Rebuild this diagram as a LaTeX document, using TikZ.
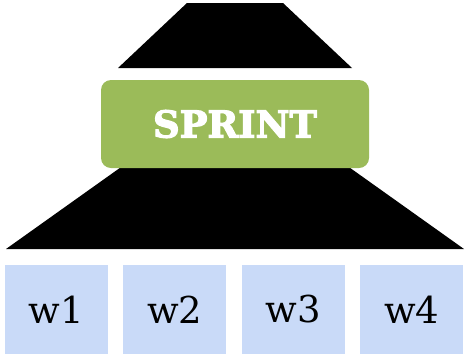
\documentclass[tikz,border=0pt]{standalone}
\usepackage{fontspec}
\setmainfont{DejaVu Serif}
\newfontfamily\heavyslab[FakeBold=3]{DejaVu Serif Bold}
\usetikzlibrary{positioning}
\definecolor{sprintgreen}{HTML}{9BBB59}
\definecolor{weekblue}{HTML}{C9DAF8}
\tikzstyle{sprintbox} = [rectangle, rounded corners=10pt, minimum width=268pt, minimum height=88pt, text centered, fill=sprintgreen, text=white, font=\heavyslab\fontsize{37}{37}\selectfont]
\tikzstyle{week} = [rectangle, minimum width=103pt, minimum height=89pt, text centered, fill=weekblue, font=\fontsize{37}{37}\selectfont]
\tikzstyle{funnel} = [fill=black]

\begin{document}
\begin{tikzpicture}[x=1pt, y=-1pt, node distance=15pt]
\useasboundingbox (0,0) rectangle (465,354);

\fill[funnel] (187,3) -- (283,3) -- (352,68) -- (118,68) -- cycle;
\fill[funnel] (124,165) -- (346,165) -- (464,249) -- (6,249) -- cycle;

\node (sprint) [sprintbox] at (235,124) {SPRINT};

\node (w1) [week] at (56.5,309.5) {w1};
\node (w2) [week, right=of w1] {w2};
\node (w3) [week, right=of w2] {w3};
\node (w4) [week, right=of w3] {w4};

\end{tikzpicture}
\end{document}
